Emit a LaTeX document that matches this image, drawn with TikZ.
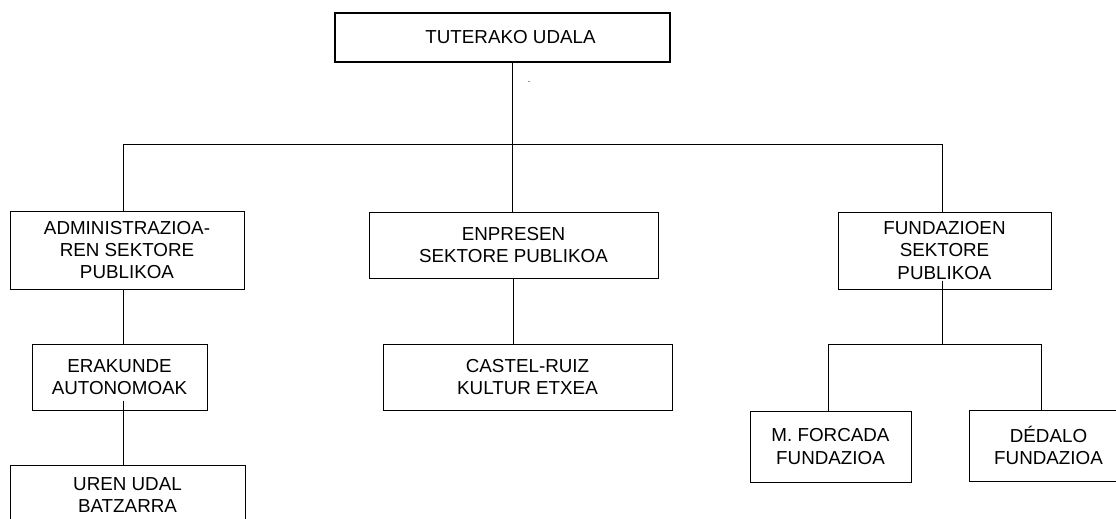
\documentclass[tikz,border=0pt]{standalone}
\usepackage{fontspec}
\setmainfont{Liberation Sans}
\usetikzlibrary{positioning}

\begin{document}
\begin{tikzpicture}[
    % GLOBAL CFG
    x=1pt, y=-1pt,
    font=\fontsize{18.8}{22.3}\selectfont,
    % Styles
    box/.style={% For the organisation boxes
        rectangle,
        draw,
        line width=1pt,
        inner sep=0pt,
        align=center,
        },
    topbox/.style={% For the council on top
        box,
        line width=2pt,
        },
    link/.style={% Plain connectors
        line width=1pt,
        },
    ]

    % Page size
    \useasboundingbox (0,0) rectangle (1116,519);

    % Draw the council
    \node [topbox, minimum width=335pt, minimum height=49pt] (udala) at (502.5,37.5) {\hspace*{16pt}TUTERAKO UDALA};
    \node [inner sep=0pt, font=\fontsize{9}{10}\selectfont] (dot) at (529,82) {.};

    % Draw the three sectors
    \node [box, minimum width=234pt, minimum height=78pt] (admin) at (127,250) {ADMINISTRAZIOA-\\REN SEKTORE\\PUBLIKOA};
    \node [box, minimum width=289pt, minimum height=66pt] (enpresen) at (513.5,245) {ENPRESEN\\SEKTORE PUBLIKOA};
    \node [box, minimum width=213pt, minimum height=77pt] (fundazio) at (944.5,250.5) {FUNDAZIOEN\\SEKTORE\\PUBLIKOA};

    % Draw the bodies below them
    \node [box, minimum width=175pt, minimum height=66pt] (erakunde) at (119.5,377) {ERAKUNDE\\AUTONOMOAK};
    \node [box, minimum width=235pt, minimum height=60pt] (uren) at (127.5,495) {UREN UDAL\\BATZARRA};
    \node [box, minimum width=289pt, minimum height=66pt] (castel) at (527.5,377) {CASTEL-RUIZ\\KULTUR ETXEA};
    \node [box, minimum width=161pt, minimum height=71pt] (forcada) at (830.5,446.5) {M. FORCADA\\FUNDAZIOA};
    \node [box, minimum width=159pt, minimum height=71pt] (dedalo) at (1048.5,445.5) {DÉDALO\\FUNDAZIOA};

    % Branch points
    \coordinate (bus) at (512.5,144.5);
    \coordinate (fsplit) at (942.5,344.5);

    % Top level
    \draw [link] (udala.south -| bus) -- (bus);
    \draw [link] (bus) -- (bus |- enpresen.north);
    \draw [link] ([xshift=-3.5pt]admin.north) |- (bus) -| ([xshift=-2pt]fundazio.north);

    % Left column
    \draw [link] ([xshift=-3.5pt]admin.south) -- ([xshift=-3.5pt]admin.south |- erakunde.north);
    \draw [link] ([xshift=4pt,yshift=10pt]erakunde.south) -- ([xshift=4pt]erakunde.south |- uren.north);

    % Middle column
    \draw [link] (enpresen.south) -- (enpresen.south |- castel.north);

    % Right column
    \draw [link] ([xshift=-2pt,yshift=9pt]fundazio.south) -- (fsplit);
    \draw [link] ([xshift=-2pt]forcada.north) |- (fsplit) -| ([xshift=-7pt]dedalo.north);

\end{tikzpicture}
\end{document}
